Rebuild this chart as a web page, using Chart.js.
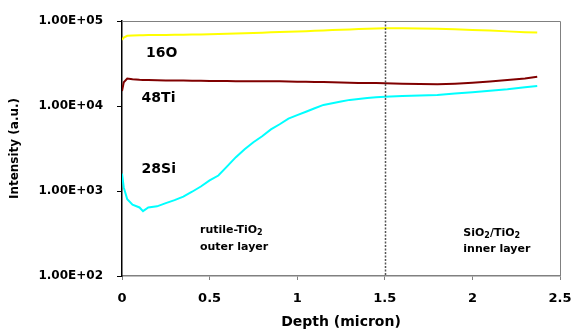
<!DOCTYPE html>
<html>
<head>
<meta charset="utf-8">
<script src="https://cdn.jsdelivr.net/npm/chart.js@4.4.1/dist/chart.umd.min.js"></script>
<style>
html,body{margin:0;padding:0;background:#fff;}
#wrap{width:574px;height:331px;position:relative;}
</style>
</head>
<body>
<div id="wrap"><canvas id="c" width="574" height="331"></canvas></div>
<script>
// Depth (micron)
const depth = [0, 0.01, 0.03, 0.06, 0.1, 0.12, 0.15, 0.2, 0.25, 0.3, 0.35, 0.4, 0.45, 0.5, 0.55, 0.6, 0.65, 0.7, 0.75, 0.8, 0.85, 0.9, 0.95, 1.0, 1.05, 1.1, 1.15, 1.2, 1.25, 1.3, 1.35, 1.4, 1.45, 1.5, 1.6, 1.7, 1.8, 1.9, 2.0, 2.1, 2.2, 2.3, 2.37];
// 16O intensity
const o16 = [60000, 64000, 67000, 67500, 68000, 68200, 68300, 68400, 68600, 68800, 69000, 69300, 69500, 69800, 70300, 70800, 71300, 71800, 72400, 72900, 73500, 74100, 74600, 75100, 75800, 76600, 77400, 78200, 79000, 79700, 80300, 81000, 81500, 82000, 82200, 81800, 81000, 79800, 78600, 77300, 75500, 73800, 73000];
// 48Ti intensity
const ti48 = [15000, 19000, 21000, 20600, 20300, 20200, 20200, 20100, 20000, 19950, 19900, 19850, 19800, 19700, 19700, 19650, 19600, 19600, 19550, 19500, 19500, 19500, 19400, 19350, 19300, 19200, 19100, 19000, 18900, 18800, 18700, 18650, 18600, 18500, 18300, 18100, 18000, 18300, 18800, 19400, 20200, 21100, 22100];
// 28Si intensity
const si28 = [1600, 1100, 800, 690, 640, 580, 640, 660, 720, 780, 860, 980, 1130, 1330, 1520, 1950, 2500, 3100, 3750, 4400, 5300, 6100, 7100, 7800, 8550, 9400, 10300, 10800, 11300, 11800, 12100, 12450, 12650, 12850, 13100, 13300, 13500, 14000, 14500, 15100, 15700, 16600, 17200];
// Y tick values
const yTicks = [100, 1000, 10000, 100000];
const xTicks = [0, 0.5, 1, 1.5, 2, 2.5];

const seriesNames = ['16O', '48Ti', '28Si'];
const seriesColors = ['#FFFF00', '#800000', '#00FFFF'];

const FONT = "'DejaVu Sans', sans-serif";

function pts(vals){ return depth.map((d,i)=>({x:d, y:vals[i]})); }

const annot = {
  id: 'annot',
  afterDatasetsDraw(chart){
    const {ctx, scales:{x, y}, chartArea:a} = chart;
    ctx.save();
    // plot frame top/right
    ctx.strokeStyle = '#808080';
    ctx.lineWidth = 1;
    ctx.beginPath();
    ctx.moveTo(a.left, a.top + 0.5);
    ctx.lineTo(a.right + 0.5, a.top + 0.5);
    ctx.lineTo(a.right + 0.5, a.bottom);
    ctx.stroke();
    // dashed divider at 1.5
    const px = Math.round(x.getPixelForValue(1.5)) + 0.5;
    ctx.strokeStyle = '#555555';
    ctx.lineWidth = 1.5;
    ctx.setLineDash([2, 1.5]);
    ctx.beginPath();
    ctx.moveTo(px, a.top);
    ctx.lineTo(px, a.bottom);
    ctx.stroke();
    ctx.setLineDash([]);
    // series labels
    ctx.fillStyle = '#000';
    ctx.textBaseline = 'middle';
    ctx.textAlign = 'left';
    ctx.font = "bold 14px " + FONT;
    const labs = [[seriesNames[0], 0.137, 42100], [seriesNames[1], 0.112, 12300], [seriesNames[2], 0.112, 1800]];
    labs.forEach(l => ctx.fillText(l[0], x.getPixelForValue(l[1]), y.getPixelForValue(l[2])));
    // region labels with subscripts
    function sub(parts, dx, dy){
      let cx = x.getPixelForValue(dx); const cy = y.getPixelForValue(dy);
      parts.forEach(p => {
        if (p.s){ ctx.font = "bold 8px " + FONT; ctx.fillText(p.t, cx, cy + 3); }
        else { ctx.font = "bold 11px " + FONT; ctx.fillText(p.t, cx, cy); }
        cx += ctx.measureText(p.t).width;
      });
    }
    sub([{t:'rutile-TiO'},{t:'2',s:1}], 0.445, 348);
    sub([{t:'outer layer'}], 0.445, 221);
    sub([{t:'SiO'},{t:'2',s:1},{t:'/TiO'},{t:'2',s:1}], 1.948, 323);
    sub([{t:'inner layer'}], 1.948, 208);
    ctx.restore();
  }
};

new Chart(document.getElementById('c'), {
  type: 'line',
  data: {
    datasets: [
      {label: seriesNames[0], data: pts(o16), borderColor: seriesColors[0], borderWidth: 2, pointRadius: 0, tension: 0},
      {label: seriesNames[1], data: pts(ti48), borderColor: seriesColors[1], borderWidth: 2, pointRadius: 0, tension: 0},
      {label: seriesNames[2], data: pts(si28), borderColor: seriesColors[2], borderWidth: 2, pointRadius: 0, tension: 0}
    ]
  },
  options: {
    responsive: false,
    animation: false,
    events: [],
    layout: {padding: {top: 21, right: 14, left: 0, bottom: 0}},
    plugins: {legend: {display: false}, tooltip: {enabled: false}},
    scales: {
      x: {
        type: 'linear', min: 0, max: 2.5,
        afterBuildTicks: s => { s.ticks = xTicks.map(v => ({value: v})); },
        afterFit: s => { s.height = 55; s.paddingLeft = 0; s.paddingRight = 0; },
        ticks: {color: '#000', font: {family: FONT, weight: 'bold', size: 13}, padding: 11,
                callback: v => String(v)},
        grid: {drawOnChartArea: false, drawTicks: true, tickLength: 4, color: '#808080'},
        border: {color: '#808080', width: 1.5},
        title: {display: true, text: 'Depth (micron)', color: '#000', font: {family: FONT, weight: 'bold', size: 14}, padding: {top: 2, bottom: 0}}
      },
      y: {
        type: 'logarithmic', min: 100, max: 100000,
        afterBuildTicks: s => { s.ticks = yTicks.map(v => ({value: v})); },
        afterFit: s => { s.width = 122; s.paddingTop = 0; s.paddingBottom = 0; },
        ticks: {color: '#000', font: {family: FONT, weight: 'bold', size: 12}, padding: 14,
                callback: v => '1.00E+0' + Math.round(Math.log10(v))},
        grid: {drawOnChartArea: false, drawTicks: true, tickLength: 5, color: '#000'},
        border: {color: '#000', width: 1.5},
        title: {display: true, text: 'Intensity (a.u.)', color: '#000', font: {family: FONT, weight: 'bold', size: 12}, padding: {top: 8, bottom: 0}}
      }
    }
  },
  plugins: [annot]
});
</script>
</body>
</html>
